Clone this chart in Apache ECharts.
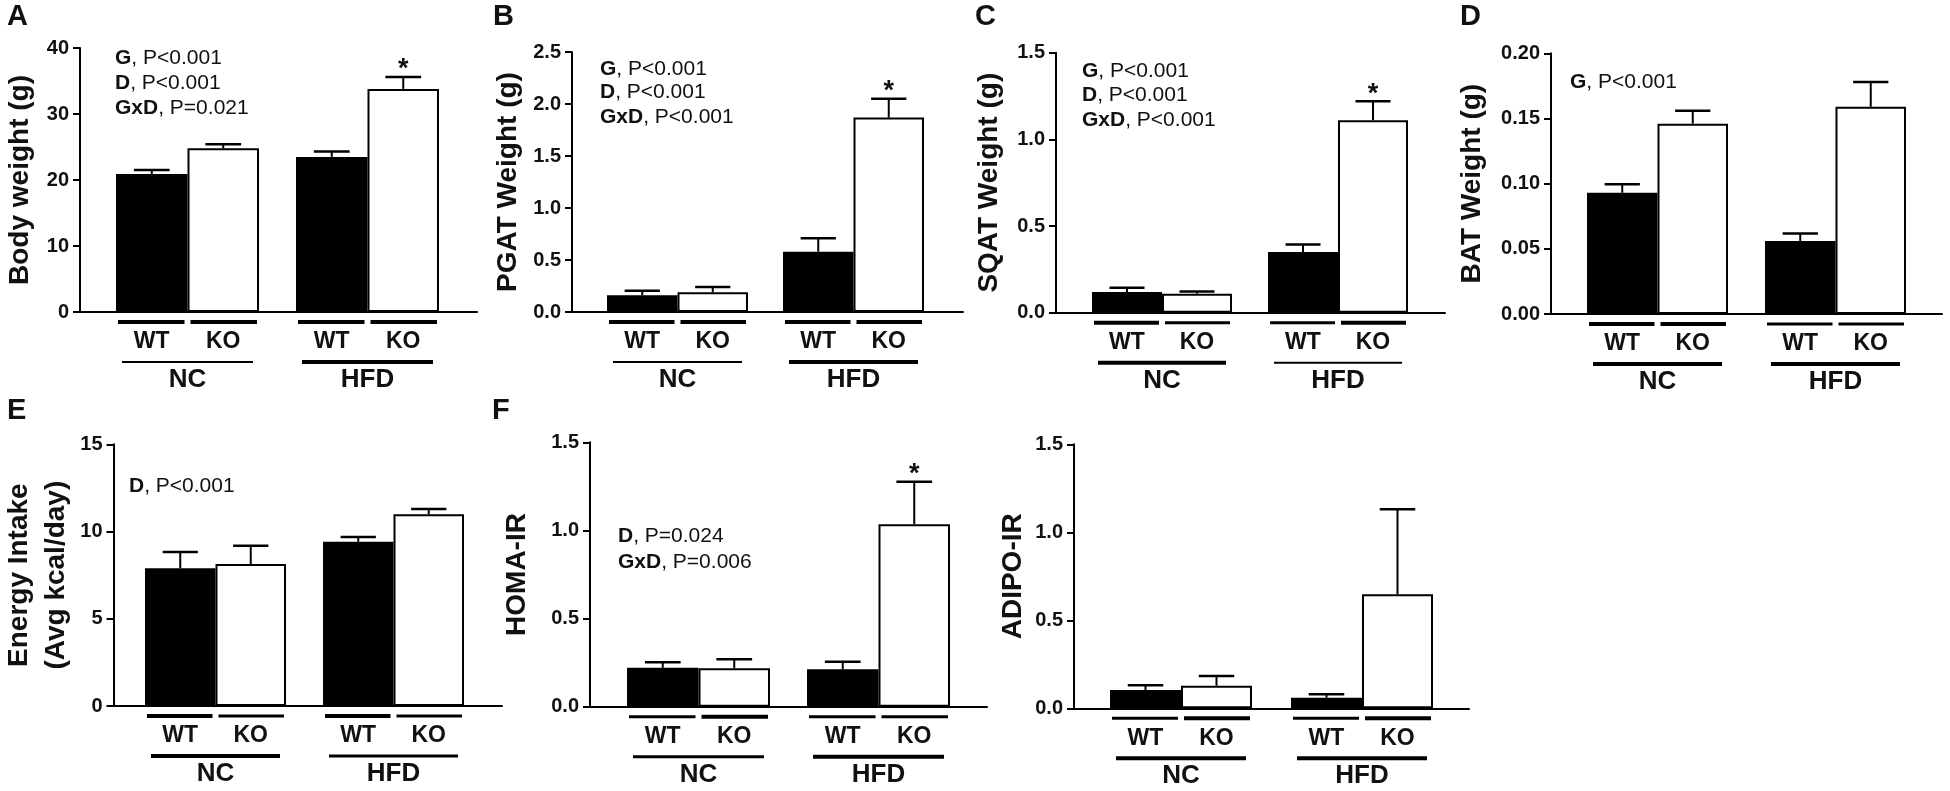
<!DOCTYPE html>
<html>
<head>
<meta charset="utf-8">
<script src="https://cdn.jsdelivr.net/npm/echarts@6/dist/echarts.min.js"></script>
<style>
  html, body { margin: 0; padding: 0; background: #fff; }
  #chart { width: 1950px; height: 791px; }
</style>
</head>
<body>
<div id="chart"></div>
<script>
const groups = ['NC', 'HFD'];
const genotypes = ['WT', 'KO'];

// A - body weight (g)
const bodyWT = [20.9, 23.5];
const bodyWTsem = [0.6, 0.8];
const bodyKO = [24.8, 33.8];
const bodyKOsem = [0.6, 1.8];
const bodyStar = ['', '*'];
const bodyTicks = [0, 10, 20, 30, 40];
const bodyStats = [['G', 'P<0.001'], ['D', 'P<0.001'], ['GxD', 'P=0.021']];

// B - PGAT weight (g)
const pgatWT = [0.16, 0.58];
const pgatWTsem = [0.045, 0.13];
const pgatKO = [0.19, 1.87];
const pgatKOsem = [0.05, 0.18];
const pgatStar = ['', '*'];
const pgatTicks = [0.0, 0.5, 1.0, 1.5, 2.0, 2.5];
const pgatStats = [['G', 'P<0.001'], ['D', 'P<0.001'], ['GxD', 'P<0.001']];

// C - SQAT weight (g)
const sqatWT = [0.12, 0.35];
const sqatWTsem = [0.024, 0.043];
const sqatKO = [0.11, 1.11];
const sqatKOsem = [0.013, 0.11];
const sqatStar = ['', '*'];
const sqatTicks = [0.0, 0.5, 1.0, 1.5];
const sqatStats = [['G', 'P<0.001'], ['D', 'P<0.001'], ['GxD', 'P<0.001']];

// D - BAT weight (g)
const batWT = [0.093, 0.056];
const batWTsem = [0.0065, 0.0057];
const batKO = [0.146, 0.159];
const batKOsem = [0.0099, 0.019];
const batStar = ['', ''];
const batTicks = [0.00, 0.05, 0.10, 0.15, 0.20];
const batStats = [['G', 'P<0.001']];

// E - energy intake
const energyWT = [7.9, 9.42];
const energyWTsem = [0.92, 0.27];
const energyKO = [8.14, 10.99];
const energyKOsem = [1.05, 0.30];
const energyStar = ['', ''];
const energyTicks = [0, 5, 10, 15];
const energyStats = [['D', 'P<0.001']];

// F - HOMA-IR
const homaWT = [0.221, 0.212];
const homaWTsem = [0.031, 0.043];
const homaKO = [0.218, 1.035];
const homaKOsem = [0.051, 0.241];
const homaStar = ['', '*'];
const homaTicks = [0.0, 0.5, 1.0, 1.5];
const homaStats = [['D', 'P=0.024'], ['GxD', 'P=0.006']];

// ADIPO-IR
const adipoWT = [0.104, 0.060];
const adipoWTsem = [0.027, 0.020];
const adipoKO = [0.128, 0.648];
const adipoKOsem = [0.056, 0.483];
const adipoStar = ['', ''];
const adipoTicks = [0.0, 0.5, 1.0, 1.5];
const adipoStats = [];

const FONT = '"Liberation Sans", Arial, Helvetica, sans-serif';
const INK = '#111';

// layout of each panel (pixels) and line styles
const panels = [
  { letter: 'A', letterXY: [7, 17], title: 'Body weight (g)', titleDist: 60, dec: 0,
    wt: bodyWT, wtSem: bodyWTsem, ko: bodyKO, koSem: bodyKOsem, star: bodyStar, ticks: bodyTicks, stats: bodyStats,
    axisX: 80, axisEnd: 477, top: 48, zero: 312, barLeft: 116, barRight: 439, groupW: 143,
    statsX: 115, statsY: [58.5, 83.5, 108.5], subW: [4, 4, 4, 4], mainW: [2, 4] },
  { letter: 'B', letterXY: [493, 17], title: 'PGAT Weight (g)', titleDist: 64, dec: 1,
    wt: pgatWT, wtSem: pgatWTsem, ko: pgatKO, koSem: pgatKOsem, star: pgatStar, ticks: pgatTicks, stats: pgatStats,
    axisX: 572, axisEnd: 963, top: 52, zero: 312, barLeft: 607, barRight: 924, groupW: 141,
    statsX: 600, statsY: [69.5, 92.5, 117.5], subW: [4, 4, 4, 4], mainW: [2, 4] },
  { letter: 'C', letterXY: [975, 17], title: 'SQAT Weight (g)', titleDist: 67, dec: 1,
    wt: sqatWT, wtSem: sqatWTsem, ko: sqatKO, koSem: sqatKOsem, star: sqatStar, ticks: sqatTicks, stats: sqatStats,
    axisX: 1056, axisEnd: 1445, top: 52.7, zero: 312.7, barLeft: 1092, barRight: 1408, groupW: 140,
    statsX: 1082, statsY: [71, 95, 120], subW: [4, 3, 3, 4], mainW: [4, 2] },
  { letter: 'D', letterXY: [1460, 17], title: 'BAT Weight (g)', titleDist: 79, dec: 2,
    wt: batWT, wtSem: batWTsem, ko: batKO, koSem: batKOsem, star: batStar, ticks: batTicks, stats: batStats,
    axisX: 1551, axisEnd: 1942, top: 53.3, zero: 314, barLeft: 1587, barRight: 1906, groupW: 141,
    statsX: 1570, statsY: [82], subW: [4, 4, 3, 3], mainW: [4, 4] },
  { letter: 'E', letterXY: [7, 411], title: 'Energy Intake\n(Avg kcal/day)', titleDist: 75.5, dec: 0,
    wt: energyWT, wtSem: energyWTsem, ko: energyKO, koSem: energyKOsem, star: energyStar, ticks: energyTicks, stats: energyStats,
    axisX: 109, axisEnd: 502, top: 444.3, zero: 706, barLeft: 145, barRight: 464, groupW: 141,
    statsX: 129, statsY: [486.5], subW: [4, 3, 4, 3], mainW: [4, 3] },
  { letter: 'F', letterXY: [492, 411], title: 'HOMA-IR', titleDist: 73, dec: 1,
    wt: homaWT, wtSem: homaWTsem, ko: homaKO, koSem: homaKOsem, star: homaStar, ticks: homaTicks, stats: homaStats,
    axisX: 590, axisEnd: 987, top: 442.3, zero: 706.7, barLeft: 627, barRight: 950, groupW: 143,
    statsX: 618, statsY: [536.5, 562.5], subW: [3, 4, 3, 3], mainW: [3, 4] },
  { letter: '', letterXY: [0, 0], title: 'ADIPO-IR', titleDist: 61, dec: 1,
    wt: adipoWT, wtSem: adipoWTsem, ko: adipoKO, koSem: adipoKOsem, star: adipoStar, ticks: adipoTicks, stats: adipoStats,
    axisX: 1074, axisEnd: 1469, top: 444.3, zero: 708.3, barLeft: 1110, barRight: 1433, groupW: 142,
    statsX: 1100, statsY: [], subW: [3, 4, 3, 4], mainW: [4, 4] }
];

const grids = [];
const xAxes = [];
const yAxes = [];
const series = [];
const graphics = [];

function line(x1, y1, x2, y2, w) {
  return { type: 'line', shape: { x1, y1, x2, y2 }, style: { stroke: '#000', lineWidth: w, lineCap: 'butt' } };
}

function label(text, x, y, size) {
  return {
    type: 'text',
    style: { text, x, y, align: 'center', verticalAlign: 'middle', fontSize: size, fontWeight: 'bold', fontFamily: FONT, fill: INK }
  };
}

panels.forEach((p) => {
  const yMin = p.ticks[0];
  const yMax = p.ticks[p.ticks.length - 1];
  const step = p.ticks[1] - p.ticks[0];
  const height = p.zero - p.top;
  const barW = p.groupW / 2;
  const c1 = p.barLeft + p.groupW / 2;
  const c2 = p.barRight - p.groupW / 2;
  const band = c2 - c1;
  const titleSize = 28;
  const titleLines = p.title.split('\n').length;
  const titleLH = 37;
  const titleBox = titleLines > 1 ? titleLines * titleLH : titleSize;

  // grid with the visible axes
  const ga = grids.length;
  grids.push({ left: p.axisX, width: p.axisEnd - p.axisX, top: p.top, height });
  xAxes.push({
    gridIndex: ga, type: 'value', min: 0, max: 1,
    axisLine: { show: true, onZero: false, lineStyle: { color: '#000', width: 2 } },
    axisTick: { show: false }, axisLabel: { show: false }, splitLine: { show: false }
  });
  yAxes.push({
    gridIndex: ga, type: 'value', min: yMin, max: yMax, interval: step,
    axisLine: { show: true, onZero: false, lineStyle: { color: '#000', width: 2 } },
    axisTick: { show: true, length: 7, lineStyle: { color: '#000', width: 2 } },
    axisLabel: {
      margin: 11, color: INK, fontSize: 20, fontWeight: 'bold', fontFamily: FONT,
      formatter: (v) => v.toFixed(p.dec)
    },
    splitLine: { show: false },
    name: p.title, nameLocation: 'middle', nameGap: p.titleDist - titleBox / 2,
    nameTextStyle: { color: INK, fontSize: titleSize, fontWeight: 'bold', fontFamily: FONT, lineHeight: titleLines > 1 ? titleLH : undefined }
  });

  // grid with the bars (category bands centred on the groups)
  const gb = grids.length;
  grids.push({ left: c1 - band / 2, width: band * 2, top: p.top, height });
  const xb = xAxes.length;
  xAxes.push({ gridIndex: gb, type: 'category', data: groups, show: false });
  const yb = yAxes.length;
  yAxes.push({ gridIndex: gb, type: 'value', min: yMin, max: yMax, show: false });

  series.push({
    type: 'bar', name: genotypes[0], xAxisIndex: xb, yAxisIndex: yb, data: p.wt,
    barWidth: barW, barGap: '0%', silent: true,
    itemStyle: { color: '#000', borderColor: '#000', borderWidth: 2 }
  });
  series.push({
    type: 'bar', name: genotypes[1], xAxisIndex: xb, yAxisIndex: yb, data: p.ko,
    barWidth: barW, barGap: '0%', silent: true,
    itemStyle: { color: '#fff', borderColor: '#000', borderWidth: 2 }
  });

  // error bars (mean + SEM) and significance stars
  [[p.wt, p.wtSem, -1, null], [p.ko, p.koSem, 1, p.star]].forEach(([means, sems, side, stars]) => {
    series.push({
      type: 'custom', xAxisIndex: xb, yAxisIndex: yb, z: 5, silent: true,
      data: groups.map((g, i) => [i, means[i], sems[i]]),
      renderItem(params, api) {
        const i = api.value(0);
        const base = api.coord([i, api.value(1)]);
        const top = api.coord([i, api.value(1) + api.value(2)]);
        const x = base[0] + side * barW / 2;
        const cap = barW * 0.25;
        const children = [
          line(x, base[1], x, top[1], 2),
          line(x - cap, top[1], x + cap, top[1], 2.5)
        ];
        if (stars && stars[i]) {
          children.push({
            type: 'text',
            style: { text: stars[i], x, y: top[1] - 7, align: 'center', verticalAlign: 'middle', fontSize: 27, fontWeight: 'bold', fontFamily: FONT, fill: INK }
          });
        }
        return { type: 'group', children };
      }
    });
  });

  // WT / KO and NC / HFD labels with their bars under the axis
  series.push({
    type: 'custom', xAxisIndex: xb, yAxisIndex: yb, silent: true,
    data: groups.map((g, i) => [i, yMin]),
    renderItem(params, api) {
      const i = api.value(0);
      const pt = api.coord([i, yMin]);
      const cx = pt[0];
      const y0 = pt[1];
      return {
        type: 'group',
        children: [
          line(cx - barW + 2, y0 + 10, cx - 3, y0 + 10, p.subW[i * 2]),
          line(cx + 3, y0 + 10, cx + barW - 2, y0 + 10, p.subW[i * 2 + 1]),
          label(genotypes[0], cx - barW / 2, y0 + 30, 23),
          label(genotypes[1], cx + barW / 2, y0 + 30, 23),
          line(cx - barW + 6, y0 + 50, cx + barW - 6, y0 + 50, p.mainW[i]),
          label(groups[i], cx, y0 + 68, 26)
        ]
      };
    }
  });

  if (p.letter) {
    graphics.push({
      type: 'text', x: p.letterXY[0], y: p.letterXY[1],
      style: { text: p.letter, verticalAlign: 'middle', fontSize: 29, fontWeight: 'bold', fontFamily: FONT, fill: INK }
    });
  }
  p.stats.forEach(([factor, pval], k) => {
    graphics.push({
      type: 'text', x: p.statsX, y: p.statsY[k],
      style: {
        text: `{b|${factor}}{n|, ${pval}}`, verticalAlign: 'middle',
        rich: {
          b: { fontSize: 21, fontWeight: 'bold', fontFamily: FONT, fill: INK },
          n: { fontSize: 21, fontFamily: FONT, fill: INK }
        }
      }
    });
  });
});

const chart = echarts.init(document.getElementById('chart'));
chart.setOption({
  animation: false,
  backgroundColor: '#fff',
  grid: grids,
  xAxis: xAxes,
  yAxis: yAxes,
  series,
  graphic: graphics
});
</script>
</body>
</html>
